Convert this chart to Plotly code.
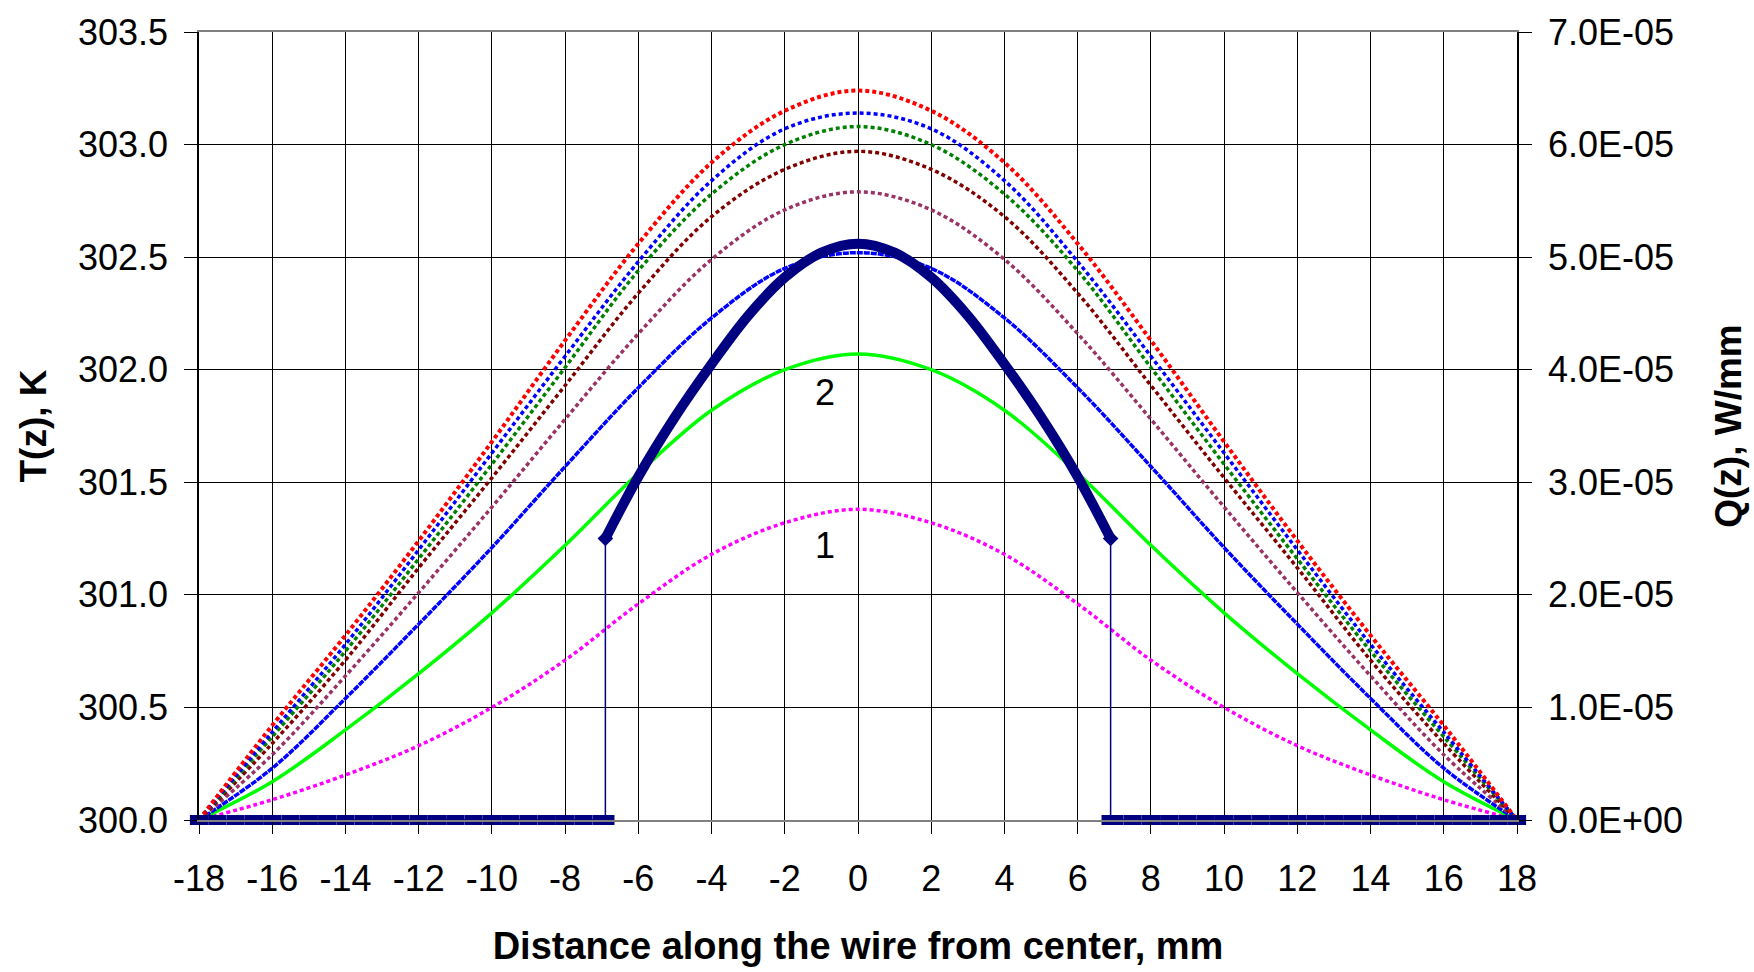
import plotly.graph_objects as go

# ---------------- data ----------------
z = [-18, -16, -14, -12, -10, -8, -6, -4, -2, 0, 2, 4, 6, 8, 10, 12, 14, 16, 18]

T_red     = [300.00, 300.42, 300.82, 301.24, 301.68, 302.13, 302.56, 302.92, 303.15, 303.24,
             303.15, 302.92, 302.56, 302.13, 301.68, 301.24, 300.82, 300.42, 300.00]
T_blue_d  = [300.00, 300.39, 300.78, 301.20, 301.63, 302.06, 302.48, 302.84, 303.07, 303.14,
             303.07, 302.84, 302.48, 302.06, 301.63, 301.20, 300.78, 300.39, 300.00]
T_green_d = [300.00, 300.37, 300.75, 301.16, 301.58, 302.01, 302.44, 302.78, 303.00, 303.08,
             303.00, 302.78, 302.44, 302.01, 301.58, 301.16, 300.75, 300.37, 300.00]
T_darkred = [300.00, 300.34, 300.71, 301.12, 301.52, 301.93, 302.34, 302.68, 302.89, 302.97,
             302.89, 302.68, 302.34, 301.93, 301.52, 301.12, 300.71, 300.34, 300.00]
T_mauve   = [300.00, 300.29, 300.64, 301.01, 301.39, 301.78, 302.16, 302.49, 302.71, 302.79,
             302.71, 302.49, 302.16, 301.78, 301.39, 301.01, 300.64, 300.29, 300.00]
T_blue    = [300.00, 300.23, 300.54, 300.87, 301.21, 301.57, 301.92, 302.23, 302.45, 302.52,
             302.45, 302.23, 301.92, 301.57, 301.21, 300.87, 300.54, 300.23, 300.00]
T_lime    = [300.00, 300.17, 300.40, 300.65, 300.92, 301.22, 301.54, 301.82, 302.00, 302.07,
             302.00, 301.82, 301.54, 301.22, 300.92, 300.65, 300.40, 300.17, 300.00]
T_magenta = [300.00, 300.09, 300.20, 300.33, 300.50, 300.71, 300.96, 301.18, 301.32, 301.38,
             301.32, 301.18, 300.96, 300.71, 300.50, 300.33, 300.20, 300.09, 300.00]

# heat source Q(z), W/mm  (zero outside the heated zone, read every 0.5 mm)
Qz_left  = [-18, -17.5, -17, -16.5, -16, -15.5, -15, -14.5, -14, -13.5, -13, -12.5,
            -12, -11.5, -11, -10.5, -10, -9.5, -9, -8.5, -8, -7.5, -7, -6.9]
Q_left   = [0.0, 0.0, 0.0, 0.0, 0.0, 0.0, 0.0, 0.0, 0.0, 0.0, 0.0, 0.0,
            0.0, 0.0, 0.0, 0.0, 0.0, 0.0, 0.0, 0.0, 0.0, 0.0, 0.0, 0.0]
Qz_mid   = [-6.9, -6, -5, -4, -3, -2, -1, 0, 1, 2, 3, 4, 5, 6, 6.9]
Q_mid    = [2.50e-5, 3.05e-5, 3.58e-5, 4.05e-5, 4.48e-5, 4.82e-5, 5.04e-5, 5.12e-5,
            5.04e-5, 4.82e-5, 4.48e-5, 4.05e-5, 3.58e-5, 3.05e-5, 2.50e-5]
Qz_right = [6.9, 7, 7.5, 8, 8.5, 9, 9.5, 10, 10.5, 11, 11.5, 12,
            12.5, 13, 13.5, 14, 14.5, 15, 15.5, 16, 16.5, 17, 17.5, 18]
Q_right  = [0.0, 0.0, 0.0, 0.0, 0.0, 0.0, 0.0, 0.0, 0.0, 0.0, 0.0, 0.0,
            0.0, 0.0, 0.0, 0.0, 0.0, 0.0, 0.0, 0.0, 0.0, 0.0, 0.0, 0.0]

x_ticks = [-18, -16, -14, -12, -10, -8, -6, -4, -2, 0, 2, 4, 6, 8, 10, 12, 14, 16, 18]
x_text = ["-18", "-16", "-14", "-12", "-10", "-8", "-6", "-4", "-2", "0",
          "2", "4", "6", "8", "10", "12", "14", "16", "18"]
yl_ticks = [300.0, 300.5, 301.0, 301.5, 302.0, 302.5, 303.0, 303.5]
yr_ticks = [0.0, 1e-5, 2e-5, 3e-5, 4e-5, 5e-5, 6e-5, 7e-5]
yr_text = ["0.0E+00", "1.0E-05", "2.0E-05", "3.0E-05", "4.0E-05", "5.0E-05", "6.0E-05", "7.0E-05"]

labels = [("1", -0.9, 301.22), ("2", -0.9, 301.90)]

# ---------------- figure ----------------
FONT = "Liberation Sans, Arial, sans-serif"
NAVY = "#000080"
fig = go.Figure()

curves = [
    (T_magenta, "#FF00FF", 3.5, "4px,3px"),
    (T_lime,    "#00FF00", 3.5, "solid"),
    (T_blue,    "#0000FF", 3.5, "6px,1px"),
    (T_mauve,   "#993366", 3.5, "4px,3px"),
    (T_darkred, "#800000", 3.5, "4px,3px"),
    (T_green_d, "#008000", 3.5, "4px,3px"),
    (T_blue_d,  "#0000FF", 3.5, "4px,3px"),
    (T_red,     "#FF0000", 4.0, "4px,3px"),
]
for ys, col, w, dash in curves:
    fig.add_trace(go.Scatter(x=z, y=ys, mode="lines", yaxis="y",
                             line=dict(color=col, width=w, dash=dash, shape="spline", smoothing=1.0),
                             showlegend=False, hoverinfo="skip"))

# Q(z): thin connector through all points (gives the vertical steps)
fig.add_trace(go.Scatter(x=Qz_left + Qz_mid + Qz_right, y=Q_left + Q_mid + Q_right,
                         mode="lines", yaxis="y2",
                         line=dict(color=NAVY, width=1.5),
                         showlegend=False, hoverinfo="skip"))
# heated zone: thick curve
fig.add_trace(go.Scatter(x=Qz_mid, y=Q_mid, mode="lines", yaxis="y2",
                         line=dict(color=NAVY, width=10, shape="spline", smoothing=1.0),
                         showlegend=False, hoverinfo="skip"))
fig.add_trace(go.Scatter(x=[Qz_mid[0], Qz_mid[-1]], y=[Q_mid[0], Q_mid[-1]], mode="markers",
                         yaxis="y2", marker=dict(symbol="diamond", size=12, color=NAVY),
                         showlegend=False, hoverinfo="skip"))
# zero parts: dense row of markers (not clipped at the axis)
for xs, ys in [(Qz_left, Q_left), (Qz_right, Q_right)]:
    fig.add_trace(go.Scatter(x=xs, y=ys, mode="markers", yaxis="y2", cliponaxis=False,
                             marker=dict(symbol="line-ew", size=13, color=NAVY,
                                         line=dict(color=NAVY, width=10)),
                             showlegend=False, hoverinfo="skip"))

for txt, lx, ly in labels:
    fig.add_annotation(x=lx, y=ly, xref="x", yref="y", text=txt, showarrow=False,
                       font=dict(family=FONT, size=36, color="black"))

fig.update_layout(
    width=1754, height=972,
    margin=dict(l=199, r=234, t=32, b=150),
    paper_bgcolor="white", plot_bgcolor="white",
    font=dict(family=FONT, color="black"),
    xaxis=dict(range=[-18, 18], tickvals=x_ticks, ticktext=x_text,
               ticks="outside", ticklen=12, tickcolor="black", ticklabelstandoff=14,
               showgrid=True, gridcolor="black", gridwidth=1,
               showline=True, linecolor="#808080", linewidth=1.5, mirror=True,
               zeroline=False, tickfont=dict(size=36, family=FONT),
               title=dict(text="<b>Distance along the wire from center, mm</b>",
                          font=dict(size=38, family=FONT), standoff=34)),
    yaxis=dict(range=[300, 303.5], tickvals=yl_ticks, tickformat=".1f",
               ticks="outside", ticklen=13, tickcolor="black", ticklabelstandoff=9,
               showgrid=True, gridcolor="black", gridwidth=1,
               showline=True, linecolor="black", linewidth=1.5, zeroline=False,
               tickfont=dict(size=36, family=FONT),
               title=dict(text="<b>T(z), K</b>", font=dict(size=37, family=FONT), standoff=20)),
    yaxis2=dict(range=[0, 7e-5], tickvals=yr_ticks, ticktext=yr_text, overlaying="y", side="right",
                ticks="outside", ticklen=13, tickcolor="black", ticklabelstandoff=9,
                showgrid=False,
                showline=True, linecolor="black", linewidth=1.5, zeroline=False,
                tickfont=dict(size=36, family=FONT),
                title=dict(text="<b>Q(z), W/mm</b>", font=dict(size=37, family=FONT), standoff=33)),
)

fig.write_html("out.html")
